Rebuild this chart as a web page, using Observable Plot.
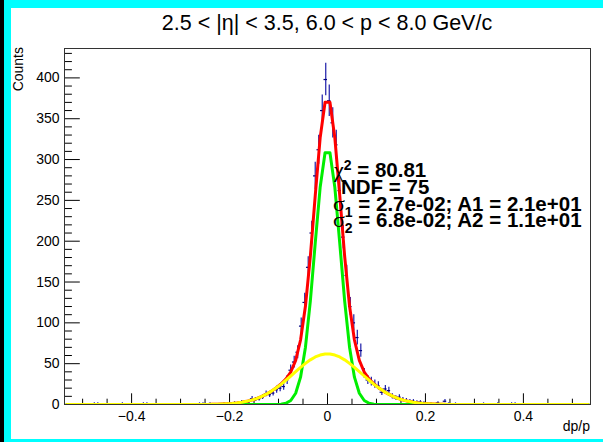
<!DOCTYPE html>
<html><head><meta charset="utf-8">
<script src="https://cdn.jsdelivr.net/npm/d3@7"></script>
<script src="https://cdn.jsdelivr.net/npm/@observablehq/plot@0.6"></script>
<style>
html,body{margin:0;padding:0;background:#fff;}
#wrap{position:relative;width:603px;height:442px;overflow:hidden;background:#fff;}
#wrap svg{position:absolute;left:0;top:0;}
.b{position:absolute;z-index:5;}
</style></head><body>
<div id="wrap"></div>
<script>
// ---- histogram (bin centers, counts) ----
const binWidth = 0.00716;
const binCenters = [-0.47614,-0.46898,-0.41886,-0.3759,-0.36874,-0.26134,-0.25418,-0.23986,-0.21122,-0.20406,-0.1969,-0.18974,-0.18258,-0.17542,-0.16826,-0.1611,-0.15394,-0.14678,-0.13962,-0.13246,-0.1253,-0.11814,-0.11098,-0.10382,-0.09666,-0.0895,-0.08234,-0.07518,-0.06802,-0.06086,-0.0537,-0.04654,-0.03938,-0.03222,-0.02506,-0.0179,-0.01074,-0.00358,
0.00358,0.01074,0.0179,0.02506,0.03222,0.03938,0.04654,0.0537,0.06086,0.06802,0.07518,0.08234,0.0895,0.09666,0.10382,0.11098,0.11814,0.1253,0.13246,0.13962,0.14678,0.15394,0.1611,0.16826,0.17542,0.18258,0.18974,0.1969,0.20406,0.21122,0.22554,0.23986,0.24702,0.26134,0.31862,0.34726,0.3759,0.38306];
const binCounts = [1,1,1,1,1,1,1,1,1,1,1,2,1,3,2,3,7,6,7,9,13,12,14,18,20,22,30,42,52,64,96,125,168,210,280,312,360,398,
372,345,318,262,205,158,120,100,82,66,38,30,28,25,23,15,19,17,10,8,9,6,5,4,4,3,3,2,1,1,2,4,1,1,1,1,1,1];

// ---- fitted curves ----
const fitX = [-0.532,-0.4,-0.3,-0.265,-0.245,-0.235,-0.225,-0.215,-0.205,-0.195,-0.185,-0.175,-0.165,-0.155,-0.145,-0.135,-0.125,-0.115,-0.105,-0.095,-0.085,-0.075,-0.065,-0.055,-0.045,-0.035,-0.025,-0.015,-0.005,
0.005,0.015,0.025,0.035,0.045,0.055,0.065,0.075,0.085,0.095,0.105,0.115,0.125,0.135,0.145,0.155,0.165,0.175,0.185,0.195,0.205,0.215,0.225,0.235,0.245,0.265,0.3,0.4,0.532];
const fitTotal = [0,0,0.01,0.05,0.13,0.22,0.35,0.55,0.85,1.28,1.89,2.73,3.86,5.35,7.26,9.65,12.6,16.1,20.3,25.1,31.2,39.8,54.1,79.0,120.6,181.6,256.0,326.5,370.1,
370.1,326.5,256.0,181.6,120.6,79.0,54.1,39.8,31.2,25.1,20.3,16.1,12.6,9.65,7.26,5.35,3.86,2.73,1.89,1.28,0.85,0.55,0.35,0.22,0.13,0.05,0.01,0,0];
const fitNarrow = [0,0,0,0,0,0,0,0,0,0,0,0,0,0,0,0,0,0,0.1,0.4,1.5,4.9,13.8,33.5,70.2,126.9,197.8,265.9,308.3,
308.3,265.9,197.8,126.9,70.2,33.5,13.8,4.9,1.5,0.4,0.1,0,0,0,0,0,0,0,0,0,0,0,0,0,0,0,0,0,0];
const fitWide = [0,0,0.01,0.05,0.13,0.22,0.35,0.55,0.85,1.28,1.89,2.73,3.86,5.35,7.26,9.65,12.6,16.1,20.2,24.7,29.7,34.9,40.3,45.5,50.4,54.7,58.2,60.6,61.8,
61.8,60.6,58.2,54.7,50.4,45.5,40.3,34.9,29.7,24.7,20.2,16.1,12.6,9.65,7.26,5.35,3.86,2.73,1.89,1.28,0.85,0.55,0.35,0.22,0.13,0.05,0.01,0,0];

// ---- ticks ----
const xMajorTicks = [-0.4,-0.2,0,0.2,0.4];
const xMinorTicks = [-0.5,-0.45,-0.35,-0.3,-0.25,-0.15,-0.1,-0.05,0.05,0.1,0.15,0.25,0.3,0.35,0.45,0.5];
const yMajorTicks = [0,50,100,150,200,250,300,350,400];
const yMinorTicks = [10,20,30,40,60,70,80,90,110,120,130,140,160,170,180,190,210,220,230,240,260,270,280,290,310,320,330,340,360,370,380,390,410,420,430];

const titleText = "2.5 < |η| < 3.5, 6.0 < p < 8.0 GeV/c";
const xTitle = "dp/p";
const yTitle = "Counts";
const statChi2 = "80.81", statNDF = "75";
const statLine1 = " = 2.7e-02; A1 = 2.1e+01";
const statLine2 = " = 6.8e-02; A2 = 1.1e+01";

const W = 603, H = 442, mL = 64, mR = 13, mT = 48, mB = 38;
const fw = W - mL - mR, fh = H - mT - mB;

const hist = binCenters.map((c, i) => ({c, n: binCounts[i], e: Math.sqrt(binCounts[i])}));
const fits = fitX.map((x, i) => ({x, total: fitTotal[i], narrow: fitNarrow[i], wide: fitWide[i]}));

const svg = Plot.plot({
  width: W, height: H,
  marginLeft: mL, marginRight: mR, marginTop: mT, marginBottom: mB,
  x: {domain: [-0.537, 0.537]},
  y: {domain: [0, 436]},
  style: {fontFamily: "'Liberation Sans', Arial, sans-serif", fontSize: "14px", background: "transparent", color: "#000"},
  marks: [
    Plot.axisX(xMajorTicks, {tickSize: 0, tickPadding: 7, fontSize: 14, label: null, tickFormat: d => d === 0 ? "0" : d3.format("")(d)}),
    Plot.axisY(yMajorTicks, {tickSize: 0, tickPadding: 5, fontSize: 14, label: null}),
    Plot.ruleX(xMajorTicks, {x: d => d, insetTop: fh - 10.7, stroke: "#000", strokeWidth: 1}),
    Plot.ruleX(xMinorTicks, {x: d => d, insetTop: fh - 5.3, stroke: "#000", strokeWidth: 1}),
    Plot.ruleY(yMajorTicks, {y: d => d, insetRight: fw - 15.8, stroke: "#000", strokeWidth: 1}),
    Plot.ruleY(yMinorTicks, {y: d => d, insetRight: fw - 7.9, stroke: "#000", strokeWidth: 1}),
    Plot.ruleX(hist, {x: "c", y1: d => d.n - d.e, y2: d => d.n + d.e, stroke: "#1c1ca8", strokeWidth: 1.2}),
    Plot.ruleY(hist, {y: "n", x1: d => d.c - binWidth / 2, x2: d => d.c + binWidth / 2, stroke: "#000080", strokeWidth: 1.2}),
    Plot.line(fits, {x: "x", y: "total", stroke: "#ff0000", strokeWidth: 3, clip: true}),
    Plot.line(fits, {x: "x", y: "narrow", stroke: "#00ee00", strokeWidth: 3, clip: true}),
    Plot.line(fits, {x: "x", y: "wide", stroke: "#ffff00", strokeWidth: 3, clip: true}),
    Plot.frame({stroke: "#333", strokeWidth: 1})
  ]
});
document.getElementById("wrap").appendChild(svg);

const s = d3.select(svg);
const sans = "'Liberation Sans', Arial, sans-serif";
const serif = "'Liberation Serif', 'Times New Roman', serif";
s.append("text").attr("x", 327).attr("y", 30).attr("text-anchor", "middle")
  .attr("font-family", sans).attr("font-size", 21.5).attr("fill", "#000").text(titleText);
s.append("text").attr("transform", "translate(23,47) rotate(-90)").attr("text-anchor", "end")
  .attr("font-family", sans).attr("font-size", 14).attr("fill", "#000").text(yTitle);
s.append("text").attr("x", 590).attr("y", 431).attr("text-anchor", "end")
  .attr("font-family", sans).attr("font-size", 14).attr("fill", "#000").text(xTitle);

const st = s.append("g").attr("font-family", sans).attr("font-size", 20.5).attr("font-weight", "bold")
  .attr("fill", "#000").attr("text-anchor", "start");
let t = st.append("text").attr("x", 334).attr("y", 177);
t.append("tspan").attr("font-family", serif).attr("font-weight", "normal").attr("font-size", 22).text("χ");
t.append("tspan").attr("dy", -7).attr("font-size", 14).text("2");
t.append("tspan").attr("dy", 7).text(" = " + statChi2);
st.append("text").attr("x", 341).attr("y", 193.5).text("NDF = " + statNDF);
t = st.append("text").attr("x", 333).attr("y", 210.5);
t.append("tspan").attr("font-family", serif).attr("font-weight", "normal").attr("font-size", 22).text("σ");
t.append("tspan").attr("dy", 6).attr("font-size", 14).text("1");
t.append("tspan").attr("dy", -6).text(statLine1);
t = st.append("text").attr("x", 333).attr("y", 227);
t.append("tspan").attr("font-family", serif).attr("font-weight", "normal").attr("font-size", 22).text("σ");
t.append("tspan").attr("dy", 6).attr("font-size", 14).text("2");
t.append("tspan").attr("dy", -6).text(statLine2);

// canvas border (pad decoration)
const wrap = document.getElementById("wrap");
[["0px","0px","4px","442px","#000"],["4px","0px","7px","442px","#00ffff"],["4px","0px","599px","8px","#00ffff"],["4px","439px","599px","3px","#00ffff"]]
.forEach(([l,tp,w,h,c]) => { const d = document.createElement("div"); d.className = "b";
  Object.assign(d.style, {left:l, top:tp, width:w, height:h, background:c}); wrap.appendChild(d); });
</script>
</body></html>
